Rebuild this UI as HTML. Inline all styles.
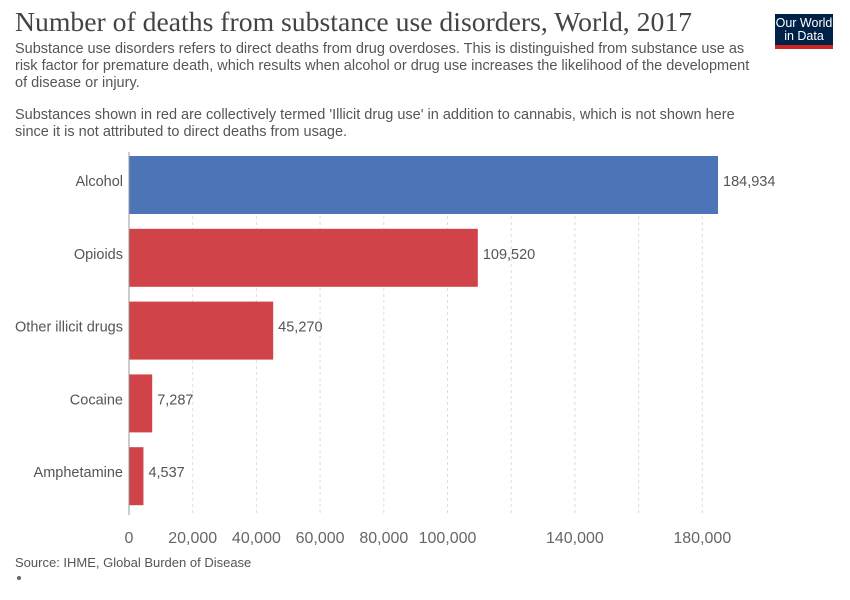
<!DOCTYPE html>
<html><head><meta charset="utf-8"><style>
body{margin:0;width:850px;height:600px;background:#fff;font-family:"Liberation Sans",sans-serif;position:relative;overflow:hidden}
.t{position:absolute;margin:0}
</style></head><body>
<h1 class="t" style="left:15px;top:6px;font-family:'Liberation Serif',serif;font-weight:normal;font-size:27.7px;color:#444">Number of deaths from substance use disorders, World, 2017</h1>
<div class="t" style="left:15px;top:41px;width:737px;font-size:14.5px;line-height:17px;color:#555">Substance use disorders refers to direct deaths from drug overdoses. This is distinguished from substance use as risk factor for premature death, which results when alcohol or drug use increases the likelihood of the development of disease or injury.<br><div style="height:15px"></div>Substances shown in red are collectively termed 'Illicit drug use' in addition to cannabis, which is not shown here<br>since it is not attributed to direct deaths from usage.</div>
<div class="t" style="left:775px;top:14px;width:58px;height:35px;background:#002147;color:#fff;font-size:12.5px;line-height:13px;text-align:center;padding-top:3px;box-sizing:border-box;border-bottom:4px solid #ce261e">Our World<br>in Data</div>
<svg id="chart" class="t" style="left:0;top:0" width="850" height="600"></svg>
<div class="t" style="left:15px;top:555px;font-size:13px;color:#555">Source: IHME, Global Burden of Disease</div>
<div class="t" style="left:17px;top:576px;width:4px;height:4px;border-radius:50%;background:#666"></div>
<script>
const categories=["Alcohol","Opioids","Other illicit drugs","Cocaine","Amphetamine"];
const values=[184934,109520,45270,7287,4537];
const colors=["#4c74b7","#d04348","#d04348","#d04348","#d04348"];
const ticks=[0,20000,40000,60000,80000,100000,120000,140000,160000,180000];
const tickLabels=["0","20,000","40,000","60,000","80,000","100,000","","140,000","","180,000"];
const svg=document.getElementById('chart');const NS='http://www.w3.org/2000/svg';
const x=v=>129+v*0.003185;const band=72.8,top0=156,bh=58;
function mk(t,a){const e=document.createElementNS(NS,t);for(const k in a)e.setAttribute(k,a[k]);svg.appendChild(e);return e;}
ticks.forEach((t,i)=>{if(i>0){const g=mk('line',{x1:x(t),x2:x(t),y1:156,y2:515,stroke:'#ddd','stroke-dasharray':'3,3'});

}
if(tickLabels[i]){const l=mk('text',{x:x(t),y:543,'text-anchor':'middle','font-size':16,fill:'#666','font-family':'Liberation Sans'});l.textContent=tickLabels[i];

}});
categories.forEach((c,i)=>{const y=top0+i*band;
const r=mk('rect',{x:x(0),y:y,width:x(values[i])-x(0),height:bh,fill:colors[i]});


const l=mk('text',{x:123,y:y+bh/2+1,'text-anchor':'end','font-size':14.5,fill:'#555','font-family':'Liberation Sans'});l.textContent=c;


const v=mk('text',{x:x(values[i])+5,y:y+bh/2+1,'font-size':14.5,fill:'#555','font-family':'Liberation Sans'});v.textContent=values[i].toLocaleString('en-US');

});
const ax=mk('line',{x1:x(0),x2:x(0),y1:152,y2:515,stroke:'#999'});


</script>
</body></html>
